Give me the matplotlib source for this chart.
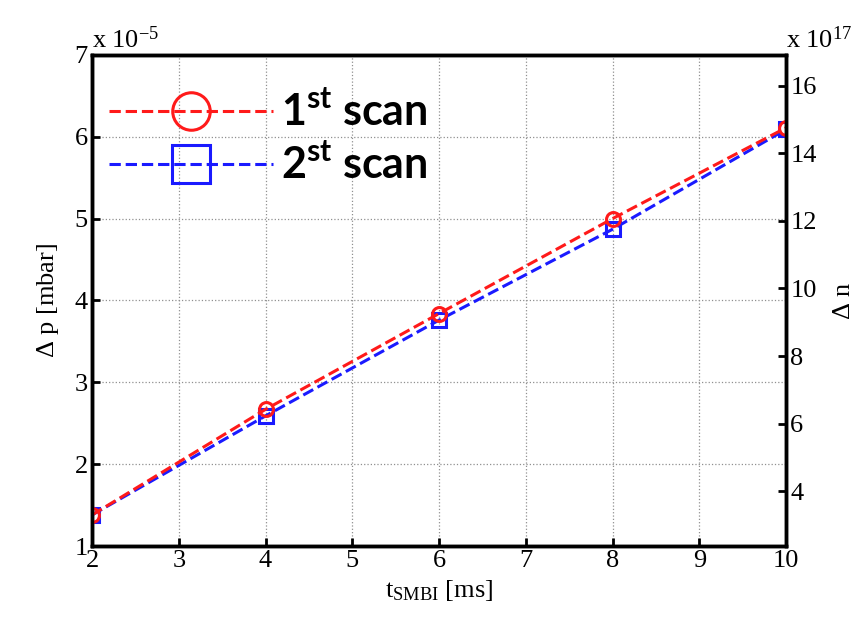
import matplotlib
matplotlib.use("Agg")
import matplotlib.pyplot as plt

# data (pressure in units of 1e-5 mbar)
t_smbi = [2, 4, 6, 8, 10]
dp_scan1 = [1.38, 2.67, 3.84, 5.00, 6.11]
dp_scan2 = [1.38, 2.59, 3.76, 4.87, 6.09]
xticks = [2, 3, 4, 5, 6, 7, 8, 9, 10]
yticks_left = [1, 2, 3, 4, 5, 6, 7]
yticks_right = [4, 6, 8, 10, 12, 14, 16]

plt.rcParams['font.family'] = 'Liberation Serif'
plt.rcParams['mathtext.fontset'] = 'custom'
plt.rcParams['mathtext.rm'] = 'Liberation Serif'
plt.rcParams['mathtext.it'] = 'Liberation Serif:italic'
plt.rcParams['mathtext.bf'] = 'Lato:bold'

fig = plt.figure(figsize=(8.6, 6.17), dpi=100)
ax = fig.add_axes([0.107, 0.115, 0.807, 0.796])

red = '#ff1a1a'
blue = '#1a1aff'
ax.plot(t_smbi, dp_scan1, '--', color=red, lw=2.2, marker='o', ms=10,
        mfc='none', mec=red, mew=2.2, label=r'$\mathbf{1^{st}\ scan}$', zorder=4)
ax.plot(t_smbi, dp_scan2, '--', color=blue, lw=2.2, marker='s', ms=10,
        mfc='none', mec=blue, mew=2.2, label=r'$\mathbf{2^{st}\ scan}$', zorder=3)

ax.set_xlim(2, 10)
ax.set_ylim(1, 7)
ax.set_xticks(xticks)
ax.set_yticks(yticks_left)
ax.grid(True, color='#909090', ls=':', lw=0.9)
ax.tick_params(direction='in', length=6, width=2, labelsize=19, pad=3)
for s in ax.spines.values():
    s.set_linewidth(2.5)
ax.set_xlabel(r't$_{\rm SMBI}$ [ms]', fontsize=19, labelpad=4)
ax.set_ylabel(r'$\Delta$ p [mbar]', fontsize=19, labelpad=10)
ax.text(0.0, 1.005, r'x 10$^{-5}$', transform=ax.transAxes, fontsize=19,
        ha='left', va='bottom')

ax2 = ax.twinx()
ax2.set_ylim(2.37, 16.92)
ax2.set_yticks(yticks_right)
ax2.tick_params(direction='in', length=6, width=2, labelsize=19, pad=3)
for s in ax2.spines.values():
    s.set_linewidth(2.5)
ax2.set_ylabel(r'$\Delta$ n', fontsize=19, labelpad=12)
ax2.text(1.0, 1.005, r'x 10$^{17}$', transform=ax2.transAxes, fontsize=19,
         ha='left', va='bottom')

leg = ax.legend(loc='upper left', bbox_to_anchor=(0.0, 0.955), frameon=False,
                fontsize=31, handlelength=3.8, markerscale=2.7,
                borderaxespad=0.0, labelspacing=0.28, handletextpad=0.2)
leg.set_zorder(10)

fig.savefig('out.png', dpi=100)
